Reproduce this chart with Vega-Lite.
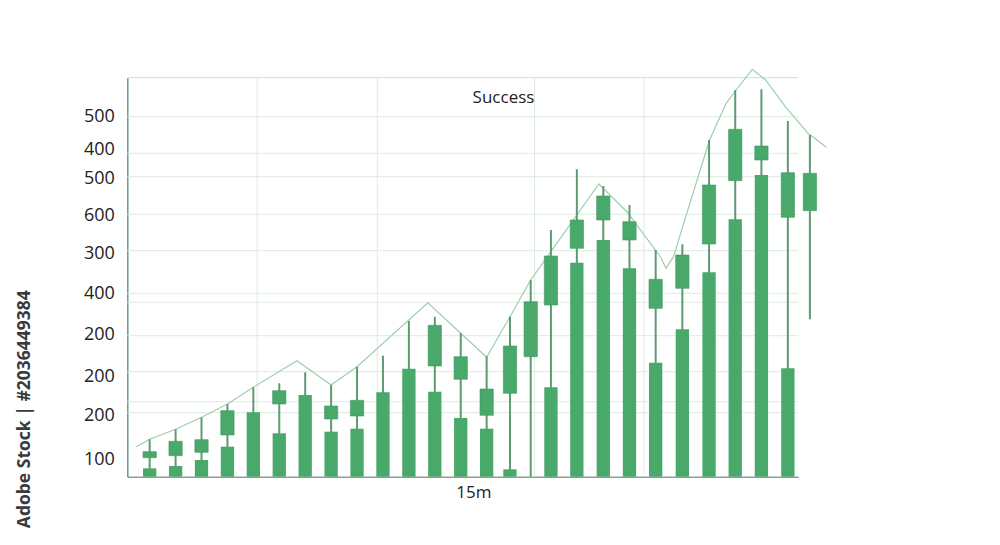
{
  "$schema": "https://vega.github.io/schema/vega-lite/v6.json",
  "width": 671,
  "height": 399,
  "autosize": "none",
  "padding": {"left": 127.3, "top": 77.7, "right": 201.7, "bottom": 68.3},
  "background": "#ffffff",
  "config": {"view": {"stroke": null}},
  "datasets": {
    "candles": [
      {"t": 1.0, "wickLo": 0, "wickHi": 37.4, "barTop": 8.4, "boxLo": 19, "boxHi": 25},
      {"t": 2.0, "wickLo": 0, "wickHi": 47.4, "barTop": 10.7, "boxLo": 21, "boxHi": 35.4},
      {"t": 3.0, "wickLo": 0, "wickHi": 59.4, "barTop": 16.7, "boxLo": 24.4, "boxHi": 37},
      {"t": 4.0, "wickLo": 0, "wickHi": 72.7, "barTop": 30, "boxLo": 41.7, "boxHi": 66},
      {"t": 5.0, "wickLo": 0, "wickHi": 89.4, "barTop": 64.4, "boxLo": null, "boxHi": null},
      {"t": 6.0, "wickLo": 0, "wickHi": 93.4, "barTop": 43.4, "boxLo": 72.7, "boxHi": 86},
      {"t": 7.0, "wickLo": 0, "wickHi": 104.4, "barTop": 81.7, "boxLo": null, "boxHi": null},
      {"t": 8.0, "wickLo": 0, "wickHi": 91.7, "barTop": 45, "boxLo": 57.7, "boxHi": 70.7},
      {"t": 9.0, "wickLo": 0, "wickHi": 110, "barTop": 48, "boxLo": 60.7, "boxHi": 76.4},
      {"t": 10.0, "wickLo": 0, "wickHi": 121, "barTop": 84.4, "boxLo": null, "boxHi": null},
      {"t": 11.0, "wickLo": 0, "wickHi": 155.7, "barTop": 108, "boxLo": null, "boxHi": null},
      {"t": 12.0, "wickLo": 0, "wickHi": 160, "barTop": 85, "boxLo": 110.7, "boxHi": 151.4},
      {"t": 13.0, "wickLo": 0, "wickHi": 143.4, "barTop": 58.7, "boxLo": 97.4, "boxHi": 120},
      {"t": 14.0, "wickLo": 0, "wickHi": 120.4, "barTop": 48, "boxLo": 61.4, "boxHi": 87.7},
      {"t": 14.9, "wickLo": 0, "wickHi": 160.2, "barTop": 7.4, "boxLo": 83.4, "boxHi": 130.7},
      {"t": 15.7, "wickLo": 0, "wickHi": 196.7, "barTop": null, "boxLo": 120, "boxHi": 175},
      {"t": 16.48, "wickLo": 0, "wickHi": 246.7, "barTop": 89.4, "boxLo": 171.7, "boxHi": 220.7},
      {"t": 17.48, "wickLo": 0, "wickHi": 307.4, "barTop": 214, "boxLo": 228.4, "boxHi": 256.7},
      {"t": 18.5, "wickLo": 0, "wickHi": 290.7, "barTop": 236.7, "boxLo": 256.7, "boxHi": 280.7},
      {"t": 19.51, "wickLo": 0, "wickHi": 271.7, "barTop": 208.4, "boxLo": 236.7, "boxHi": 255},
      {"t": 20.52, "wickLo": 0, "wickHi": 226.7, "barTop": 114, "boxLo": 168.4, "boxHi": 197.4},
      {"t": 21.55, "wickLo": 0, "wickHi": 232.4, "barTop": 147.4, "boxLo": 188.4, "boxHi": 221.7},
      {"t": 22.58, "wickLo": 0, "wickHi": 336.7, "barTop": 204.4, "boxLo": 232.7, "boxHi": 291.7},
      {"t": 23.59, "wickLo": 0, "wickHi": 386.7, "barTop": 257.4, "boxLo": 296, "boxHi": 347.4},
      {"t": 24.6, "wickLo": 0, "wickHi": 387.4, "barTop": 301.7, "boxLo": 316.7, "boxHi": 330.7},
      {"t": 25.62, "wickLo": 0, "wickHi": 355.7, "barTop": 108.4, "boxLo": 259.4, "boxHi": 304},
      {"t": 26.47, "wickLo": 157.4, "wickHi": 341.7, "barTop": null, "boxLo": 266, "boxHi": 303.4}
    ],
    "envelope": [
      {"t": 0.47, "v": 30},
      {"t": 1.0, "v": 37.4},
      {"t": 2.0, "v": 47.4},
      {"t": 3.0, "v": 59.4},
      {"t": 4.0, "v": 72.7},
      {"t": 5.0, "v": 89.4},
      {"t": 6.68, "v": 116},
      {"t": 8.0, "v": 91.7},
      {"t": 9.0, "v": 110},
      {"t": 11.73, "v": 174},
      {"t": 13.0, "v": 143.4},
      {"t": 14.0, "v": 119.4},
      {"t": 14.9, "v": 160},
      {"t": 15.7, "v": 196.7},
      {"t": 18.33, "v": 292.7},
      {"t": 19.41, "v": 265},
      {"t": 20.7, "v": 220},
      {"t": 20.92, "v": 208.4},
      {"t": 21.21, "v": 220},
      {"t": 21.72, "v": 263.4},
      {"t": 22.6, "v": 336.7},
      {"t": 23.24, "v": 373.4},
      {"t": 23.62, "v": 386.7},
      {"t": 24.25, "v": 407.4},
      {"t": 24.76, "v": 396.7},
      {"t": 25.52, "v": 370},
      {"t": 26.4, "v": 343.4},
      {"t": 27.11, "v": 329.4}
    ],
    "hgrid": [
      {"v": 360}, {"v": 323.4}, {"v": 300}, {"v": 262.4}, {"v": 226},
      {"v": 183.4}, {"v": 174.4}, {"v": 141}, {"v": 105}, {"v": 75}, {"v": 64}
    ],
    "topline": [{"v": 399}],
    "vgrid": [{"t": 5.146}, {"t": 9.78}, {"t": 15.85}, {"t": 20.07}],
    "caption": [{"t": 14.65, "v": 378.7, "label": "Success"}]
  },
  "layer": [
    {
      "data": {"name": "hgrid"},
      "mark": {"type": "rule", "color": "#dcebe1", "strokeWidth": 1},
      "encoding": {
        "y": {
          "field": "v",
          "type": "quantitative",
          "scale": {"domain": [0, 399], "nice": false, "zero": false},
          "axis": {
            "values": [360, 327, 298, 261, 223, 183, 142, 100, 61, 17],
            "labelExpr": "datum.value==360?'500':datum.value==327?'400':datum.value==298?'500':datum.value==261?'600':datum.value==223?'300':datum.value==183?'400':(datum.value==142||datum.value==100||datum.value==61)?'200':'100'",
            "grid": false,
            "ticks": false,
            "domainColor": "#6e9b7f",
            "domainWidth": 1.5,
            "labelFont": "Open Sans",
            "labelFontSize": 18,
            "labelColor": "#222222",
            "labelPadding": 13,
            "labelOverlap": false,
            "labelBound": false,
            "title": "Adobe Stock | #2036449384",
            "titleFont": "Open Sans",
            "titleFontSize": 17.5,
            "titleFontWeight": "bold",
            "titleColor": "#3a3a3a",
            "titleAngle": -90,
            "titleX": -103,
            "titleY": 331,
            "titleAlign": "center",
            "titleBaseline": "middle"
          }
        }
      }
    },
    {
      "data": {"name": "topline"},
      "mark": {"type": "rule", "color": "#c4e3cd", "strokeWidth": 1},
      "encoding": {"y": {"field": "v", "type": "quantitative"}}
    },
    {
      "data": {"name": "vgrid"},
      "mark": {"type": "rule", "color": "#dcebe1", "strokeWidth": 1},
      "encoding": {
        "x": {
          "field": "t",
          "type": "quantitative",
          "scale": {"domain": [0.33, 25.83], "nice": false, "zero": false},
          "axis": {
            "labels": false,
            "ticks": false,
            "grid": false,
            "domainColor": "#8f9e94",
            "domainWidth": 1.5,
            "title": "15m",
            "titleFont": "Open Sans",
            "titleFontSize": 17,
            "titleFontWeight": "normal",
            "titleColor": "#222222",
            "titleX": 346,
            "titleY": 16,
            "titleAlign": "center",
            "titleBaseline": "middle"
          }
        }
      }
    },
    {
      "data": {"name": "envelope"},
      "mark": {"type": "line", "color": "#9ccfae", "strokeWidth": 1.2},
      "encoding": {
        "x": {"field": "t", "type": "quantitative"},
        "y": {"field": "v", "type": "quantitative"}
      }
    },
    {
      "data": {"name": "candles"},
      "mark": {"type": "rule", "color": "#5e9a72", "strokeWidth": 2},
      "encoding": {
        "x": {"field": "t", "type": "quantitative"},
        "y": {"field": "wickLo", "type": "quantitative"},
        "y2": {"field": "wickHi"}
      }
    },
    {
      "data": {"name": "candles"},
      "transform": [{"filter": "datum.barTop != null"}],
      "mark": {"type": "bar", "color": "#49a96b", "size": 13.3},
      "encoding": {
        "x": {"field": "t", "type": "quantitative"},
        "y": {"field": "barTop", "type": "quantitative"}
      }
    },
    {
      "data": {"name": "candles"},
      "transform": [{"filter": "datum.boxLo != null"}],
      "mark": {"type": "bar", "color": "#49a96b", "size": 13.3, "stroke": "#3f9860", "strokeWidth": 0.6},
      "encoding": {
        "x": {"field": "t", "type": "quantitative"},
        "y": {"field": "boxLo", "type": "quantitative"},
        "y2": {"field": "boxHi"}
      }
    },
    {
      "data": {"name": "caption"},
      "mark": {"type": "text", "font": "Open Sans", "fontSize": 17, "color": "#222222", "align": "center", "baseline": "middle"},
      "encoding": {
        "x": {"field": "t", "type": "quantitative"},
        "y": {"field": "v", "type": "quantitative"},
        "text": {"field": "label"}
      }
    }
  ]
}
